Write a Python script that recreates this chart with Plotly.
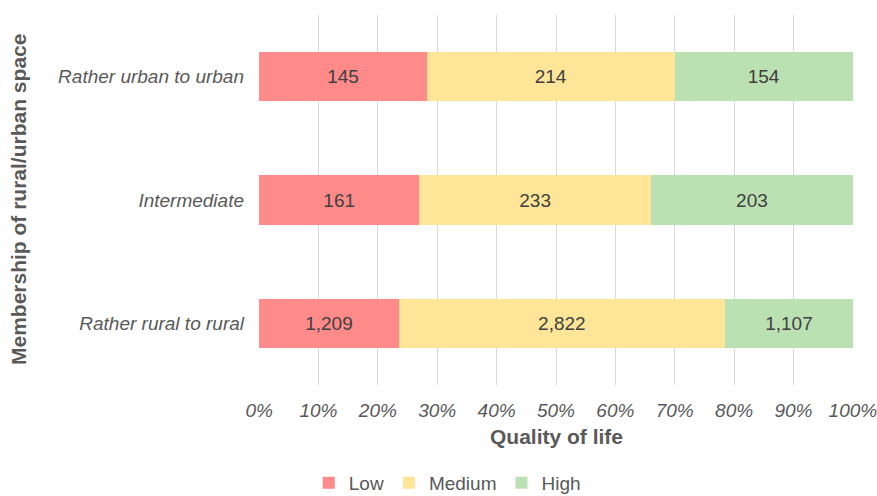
import plotly.graph_objects as go

categories = ["Rather rural to rural", "Intermediate", "Rather urban to urban"]
series_names = ["Low", "Medium", "High"]
low = [1209, 161, 145]
medium = [2822, 233, 214]
high = [1107, 203, 154]
colors = ["#FF8A8A", "#FFE597", "#BBE1B2"]
tick_vals = [0, 10, 20, 30, 40, 50, 60, 70, 80, 90, 100]
tick_text = ["0%", "10%", "20%", "30%", "40%", "50%", "60%", "70%", "80%", "90%", "100%"]

totals = [a + b + c for a, b, c in zip(low, medium, high)]
FONT = "Liberation Sans, Arial, sans-serif"

fig = go.Figure()
for name, vals, col in zip(series_names, [low, medium, high], colors):
    fig.add_trace(go.Bar(
        y=categories,
        x=[v / t * 100 for v, t in zip(vals, totals)],
        orientation="h",
        name=name,
        marker=dict(color=col, line=dict(width=0)),
        text=[f"{v:,}" for v in vals],
        textposition="inside",
        insidetextanchor="middle",
        textfont=dict(family=FONT, size=19, color="#404040"),
        hoverinfo="skip",
    ))

fig.update_layout(
    barmode="stack",
    bargap=0.6,
    width=877, height=496,
    margin=dict(l=259, r=24, t=15, b=111, autoexpand=False),
    paper_bgcolor="white", plot_bgcolor="white",
    font=dict(family=FONT, color="#595959"),
    showlegend=True,
    legend=dict(
        orientation="h",
        xref="container", yref="paper",
        x=0.51, xanchor="center",
        y=(385 - 483) / 370, yanchor="middle",
        font=dict(size=19, color="#595959"),
        itemwidth=30,
        tracegroupgap=0,
        traceorder="normal",
    ),
    uniformtext=dict(mode="show", minsize=10),
)
fig.update_xaxes(
    range=[-0.02, 100.02],
    tickvals=tick_vals, ticktext=tick_text,
    tickfont=dict(size=19, color="#595959", style="italic"),
    showgrid=True, gridcolor="#D9D9D9", gridwidth=1,
    zeroline=False, showline=False, ticks="",
    ticklabelstandoff=12,
    ticklabeloverflow="allow",
    automargin=False,
    fixedrange=True,
)
fig.update_yaxes(
    categoryorder="array", categoryarray=categories,
    tickfont=dict(size=19, color="#595959", style="italic"),
    showgrid=False, zeroline=False, showline=False, ticks="",
    ticklabelstandoff=14,
    range=[-0.5, 2.5],
    automargin=False,
    fixedrange=True,
)
fig.add_annotation(
    text="<b>Quality of life</b>", xref="paper", yref="paper",
    x=0.5, y=(385 - 437) / 370, xanchor="center", yanchor="middle",
    showarrow=False, font=dict(size=21, color="#595959"),
)
fig.add_annotation(
    text="<b>Membership of rural/urban space</b>", xref="paper", yref="paper",
    x=(18 - 259) / 594, y=0.5, xanchor="center", yanchor="middle", textangle=-90,
    showarrow=False, font=dict(size=21, color="#595959"),
)

fig.write_html("out.html")
